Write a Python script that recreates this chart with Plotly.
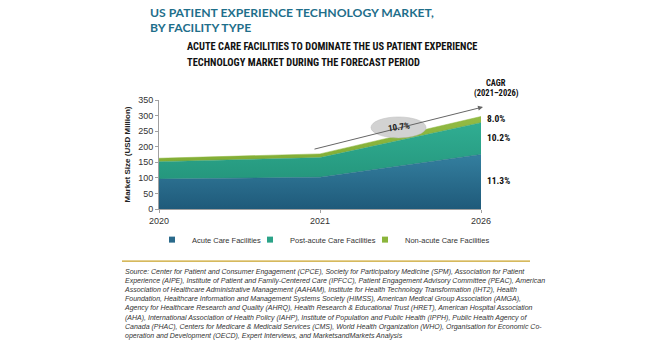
import plotly.graph_objects as go

# ---- data ----
years = ["2020", "2021", "2026"]
acute = [96, 102, 175]
post_acute = [56, 63, 102]
non_acute = [11, 12, 20]
series_names = ["Acute Care Facilities", "Post-acute Care Facilities", "Non-acute Care Facilities"]
cagr_labels = ["11.3%", "10.2%", "8.0%"]
overall_cagr = "10.7%"
y_ticks = [0, 50, 100, 150, 200, 250, 300, 350]

title1 = "US PATIENT EXPERIENCE TECHNOLOGY MARKET,"
title2 = "BY FACILITY TYPE"
sub1 = "ACUTE CARE FACILITIES TO DOMINATE THE US PATIENT EXPERIENCE"
sub2 = "TECHNOLOGY MARKET DURING THE FORECAST PERIOD"
source_lines = [
    "Source: Center for Patient and Consumer Engagement (CPCE), Society for Participatory Medicine (SPM), Association for Patient",
    "Experience (AIPE), Institute of Patient and Family-Centered Care (IPFCC), Patient Engagement Advisory Committee (PEAC), American",
    "Association of Healthcare Administrative Management (AAHAM), Institute for Health Technology Transformation (IHT2), Health",
    "Foundation, Healthcare Information and Management Systems Society (HIMSS), American Medical Group Association (AMGA),",
    "Agency for Healthcare Research and Quality (AHRQ), Health Research & Educational Trust (HRET), American Hospital Association",
    "(AHA), International Association of Health Policy (IAHP), Institute of Population and Public Health (IPPH), Public Health Agency of",
    "Canada (PHAC), Centers for Medicare & Medicaid Services (CMS), World Health Organization (WHO), Organisation for Economic Co-",
    "operation and Development (OECD), Expert Interviews, and MarketsandMarkets Analysis",
]

W, H = 650, 341
L, R, T, B = 159, 481, 100, 209.3

def px(x):
    return (x - L) / (R - L)

def py(y):
    return (B - y) / (B - T)

xs = list(range(len(years)))
fig = go.Figure()
colors = ["#2a6a8b", "#2ba388", "#8bb53b"]
grads = [
    [[0, "#1f5a7a"], [1, "#347f9f"]],
    [[0, "#25977d"], [1, "#30ad92"]],
    [[0, "#82ad35"], [1, "#93bb45"]],
]
legend_ids = ["legend", "legend2", "legend3"]
for name, vals, c, g in zip(series_names, [acute, post_acute, non_acute], colors, grads):
    fig.add_trace(go.Scatter(
        x=xs, y=vals, name=name, stackgroup="one", mode="lines",
        line=dict(width=0.5, color=c), fillcolor=c,
        fillgradient=dict(type="vertical", colorscale=g), showlegend=False,
    ))
# legend entries (small squares)
for name, c, lid in zip(series_names, colors, legend_ids):
    fig.add_trace(go.Scatter(
        x=[None], y=[None], name=name, mode="markers",
        marker=dict(symbol="square", size=6, color=c), legend=lid, showlegend=True,
    ))

leg_common = dict(orientation="h", yanchor="middle", y=py(240), xanchor="left",
                  font=dict(size=7.5, color="#333"), bgcolor="rgba(0,0,0,0)",
                  borderwidth=0, itemwidth=30)
leg_x = [152, 250, 365]

fig.update_layout(
    width=W, height=H,
    margin=dict(l=L, r=W - R, t=T, b=H - B, pad=0),
    paper_bgcolor="white", plot_bgcolor="white",
    font=dict(family="Liberation Sans, Arial", size=9, color="#333"),
    showlegend=True,
    legend=dict(x=px(leg_x[0]), **leg_common),
    legend2=dict(x=px(leg_x[1]), **leg_common),
    legend3=dict(x=px(leg_x[2]), **leg_common),
    xaxis=dict(range=[0, 2], tickvals=xs, ticktext=years, showgrid=False, zeroline=False,
               showline=True, linecolor="#a0a0a0", linewidth=1, ticks="outside",
               ticklen=3, tickcolor="#a0a0a0", tickfont=dict(size=9, color="#333")),
    yaxis=dict(range=[0, 350], tickvals=y_ticks, showgrid=False, zeroline=False,
               showline=True, linecolor="#a0a0a0", linewidth=1, ticks="outside",
               ticklen=3, tickcolor="#a0a0a0", tickfont=dict(size=9, color="#333"),
               title=dict(text="<b>Market Size (USD Million)</b>",
                          font=dict(size=8, family="Liberation Sans Narrow, Arial Narrow, Arial", color="#222"),
                          standoff=6)),
)

narrow = "Liberation Sans Narrow, Arial Narrow, Roboto Condensed, Arial"
titlefont = "Lato, Roboto, Arial"
ann = []
ann.append(dict(text="<b>" + title1 + "</b>", x=px(148), y=py(11.8), xanchor="left", yanchor="middle",
                font=dict(size=12.2, family=titlefont, color="#1f6f8b")))
ann.append(dict(text="<b>" + title2 + "</b>", x=px(148), y=py(27.8), xanchor="left", yanchor="middle",
                font=dict(size=12.2, family=titlefont, color="#1f6f8b")))
ann.append(dict(text="<b>" + sub1 + "</b>", x=px(185), y=py(46.3), xanchor="left", yanchor="middle",
                font=dict(size=10.4, family=narrow, color="#111")))
ann.append(dict(text="<b>" + sub2 + "</b>", x=px(185), y=py(62.8), xanchor="left", yanchor="middle",
                font=dict(size=10.4, family=narrow, color="#111")))
ann.append(dict(text="<b>CAGR</b>", x=px(496), y=py(83), xanchor="center", yanchor="middle",
                font=dict(size=8.5, family=narrow, color="#111")))
ann.append(dict(text="<b>(2021–2026)</b>", x=px(496), y=py(93), xanchor="center", yanchor="middle",
                font=dict(size=8.5, family=narrow, color="#111")))
for lab, yy in zip(cagr_labels, [181, 137.5, 118.5]):
    ann.append(dict(text="<b>" + lab + "</b>", x=px(485), y=py(yy), xanchor="left", yanchor="middle",
                    font=dict(size=9.5, family=narrow, color="#111")))
# arrow
ann.append(dict(text="", x=px(483), y=py(107), ax=313 - 483, ay=149.5 - 107,
                axref="pixel", ayref="pixel", showarrow=True, arrowhead=2, arrowsize=1,
                arrowwidth=1, arrowcolor="#666"))
ann.append(dict(text="<b>" + overall_cagr + "</b>", x=px(399), y=py(127.5), xanchor="center",
                yanchor="middle", textangle=-8, font=dict(size=9, family=narrow, color="#222")))
ann.append(dict(text="<i>" + "<br>".join(source_lines) + "</i>", x=px(122), y=py(266),
                xanchor="left", yanchor="top", align="left",
                font=dict(size=7, family="Liberation Sans, Arial", color="#333")))
for a in ann:
    a.setdefault("xref", "paper")
    a.setdefault("yref", "paper")
    a.setdefault("showarrow", False)
fig.update_layout(annotations=ann)

shapes = [
    dict(type="circle", xref="paper", yref="paper", x0=px(371), x1=px(426), y0=py(138), y1=py(117),
         fillcolor="#d2d2d2", line=dict(color="#bbbbbb", width=0.5), layer="above"),
    dict(type="line", xref="paper", yref="paper", x0=px(122), x1=px(530), y0=py(261.5), y1=py(261.5),
         line=dict(color="#c9a227", width=1.2)),
]
fig.update_layout(shapes=shapes)

fig.write_html("out.html")
